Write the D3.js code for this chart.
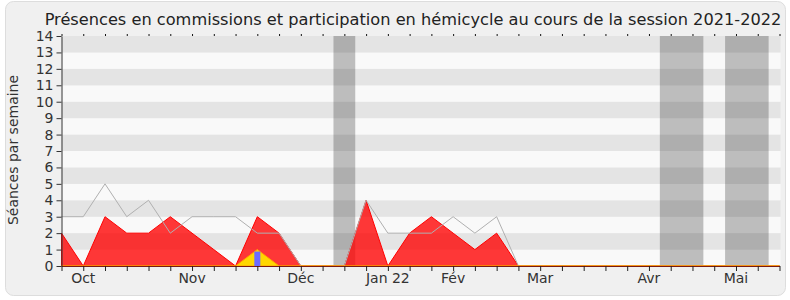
<!DOCTYPE html>
<html>
<head>
<meta charset="utf-8">
<script src="https://cdn.jsdelivr.net/npm/d3@7"></script>
<style>
  body { margin: 0; background: #ffffff; }
  svg { display: block; font-family: "DejaVu Sans", sans-serif; }
</style>
</head>
<body>
<div id="chart"></div>
<script>
// weekly values, session 2021-2022 (34 weeks)
const hemicycle  = [2,0,3,2,2,3,2,1,0,3,2,0,0,0,4,0,2,3,2,1,2,0,0,0,0,0,0,0,0,0,0,0,0,0];
const commission = [3,3,5,3,4,2,3,3,3,2,2,0,0,0,4,2,2,2,3,2,3,0,0,0,0,0,0,0,0,0,0,0,0,0];
const presence   = [0,0,0,0,0,0,0,0,0,1,0,0,0,0,0,0,0,0,0,0,0,0,0,0,0,0,0,0,0,0,0,0,0,0];
const interventions = [{week: 9, value: 1}];
const holidays = [[12.5, 13.5], [27.5, 29.5], [30.5, 32.5]];
const monthWeeks  = [1, 6, 11, 15, 18, 22, 27, 31];
const monthLabels = ["Oct", "Nov", "Déc", "Jan 22", "Fév", "Mar", "Avr", "Mai"];
const yTicks = d3.range(0, 15);

const width = 790;
const height = 300;
const margin = {top: 36, right: 10, bottom: 34, left: 61.5};

const x = d3.scaleLinear().domain([0, hemicycle.length - 1]).range([margin.left, width - margin.right - 0.5]);
const y = d3.scaleLinear().domain([0, 14]).range([height - margin.bottom, margin.top]);

const svg = d3.select("#chart").append("svg")
  .attr("width", width)
  .attr("height", height);

svg.append("rect")
  .attr("x", 5.5).attr("y", 1.5)
  .attr("width", 780).attr("height", 294)
  .attr("rx", 8)
  .attr("fill", "#f0f0f0")
  .attr("stroke", "#dddddd");

svg.append("text")
  .attr("x", 413).attr("y", 25)
  .attr("text-anchor", "middle")
  .attr("font-size", "16.2px")
  .attr("fill", "#222")
  .text("Présences en commissions et participation en hémicycle au cours de la session 2021-2022");

// striped background
svg.append("g").selectAll("rect")
  .data(d3.range(0, 14))
  .join("rect")
  .attr("x", x(0))
  .attr("y", d => y(d + 1))
  .attr("width", x(33) - x(0) + 1)
  .attr("height", d => y(d) - y(d + 1))
  .attr("fill", d => d % 2 === 1 ? "#e4e4e4" : "#f9f9f9");

// holiday weeks
svg.append("g").selectAll("rect")
  .data(holidays)
  .join("rect")
  .attr("x", d => x(d[0]))
  .attr("y", y(14))
  .attr("width", d => x(d[1]) - x(d[0]))
  .attr("height", y(0) - y(14))
  .attr("fill", "rgba(40,40,40,0.29)");

const area = d3.area()
  .x((d, i) => x(i))
  .y0(y(0))
  .y1(d => y(d));

svg.append("path")
  .datum(hemicycle)
  .attr("fill", "rgba(255,0,0,0.78)")
  .attr("stroke", "#ff0000")
  .attr("stroke-width", 1)
  .attr("d", area);

svg.append("path")
  .datum(commission)
  .attr("fill", "none")
  .attr("stroke", "#b0b0b0")
  .attr("stroke-width", 1)
  .attr("d", d3.line().x((d, i) => x(i)).y(d => y(d)));

svg.append("path")
  .datum(presence)
  .attr("fill", "#ffd700")
  .attr("stroke", "#ffa500")
  .attr("stroke-width", 1)
  .attr("d", area);

svg.append("g").selectAll("rect")
  .data(interventions)
  .join("rect")
  .attr("x", d => x(d.week) - 3)
  .attr("y", d => y(d.value) + 2)
  .attr("width", 6)
  .attr("height", d => y(0) - y(d.value) - 2)
  .attr("fill", "#6b6bff");

// axes
const weekTicks = d3.range(0, hemicycle.length);

svg.append("g")
  .attr("transform", `translate(0, ${y(14)})`)
  .call(d3.axisTop(x).tickValues(weekTicks).tickSize(2).tickFormat(""))
  .call(g => g.select(".domain").remove())
  .call(g => g.selectAll(".tick line").attr("stroke", "#111"));

const xAxisG = svg.append("g")
  .attr("transform", `translate(0, ${y(0)})`)
  .call(d3.axisBottom(x).tickValues(weekTicks).tickSize(5).tickSizeOuter(0).tickFormat(""));
xAxisG.select(".domain").attr("stroke", "#7a1a10");
xAxisG.selectAll(".tick line").attr("stroke", "#222");

svg.append("g").selectAll("text")
  .data(monthWeeks)
  .join("text")
  .attr("x", d => x(d))
  .attr("y", y(0) + 17)
  .attr("text-anchor", "middle")
  .attr("font-size", "14px")
  .attr("fill", "#333")
  .text((d, i) => monthLabels[i]);

svg.append("g")
  .attr("transform", `translate(${margin.left}, 0)`)
  .call(d3.axisLeft(y).tickValues(yTicks).tickSize(5).tickSizeOuter(0))
  .call(g => g.select(".domain").attr("stroke", "#333"))
  .call(g => g.selectAll(".tick line").attr("stroke", "#333"))
  .call(g => g.selectAll(".tick text").attr("fill", "#333").attr("font-size", "14px").attr("font-family", "DejaVu Sans, sans-serif").attr("x", -8));

svg.append("text")
  .attr("transform", "rotate(-90)")
  .attr("x", -150).attr("y", 18)
  .attr("text-anchor", "middle")
  .attr("font-size", "14px")
  .attr("fill", "#333")
  .text("Séances par semaine");
</script>
</body>
</html>
